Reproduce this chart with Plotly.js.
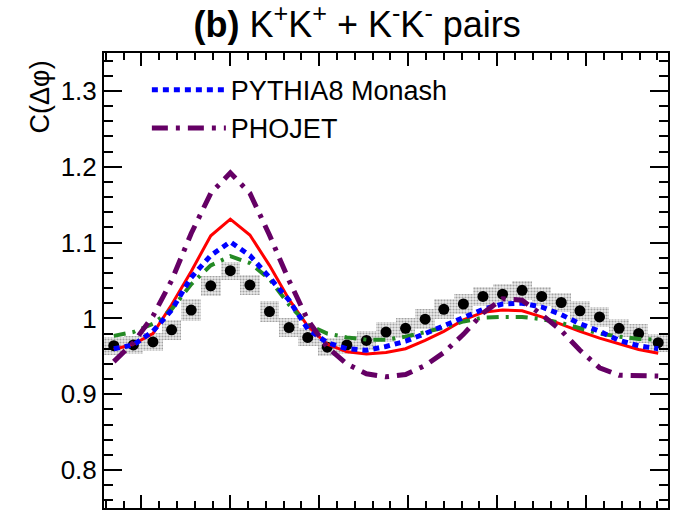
<!DOCTYPE html>
<html>
<head>
<meta charset="utf-8">
<script src="https://cdn.plot.ly/plotly-3.0.1.min.js"></script>
<style>html,body{margin:0;padding:0;background:#fff;}#chart{width:679px;height:512px;}</style>
</head>
<body>
<div id="chart"></div>
<script>
// Δφ bin centres (29 bins)
const dphi = [-1.31, -1.09, -0.87, -0.66, -0.44, -0.22, 0.00, 0.22, 0.44, 0.66,
              0.87, 1.09, 1.31, 1.53, 1.75, 1.97, 2.19, 2.40, 2.62, 2.84,
              3.06, 3.28, 3.50, 3.72, 3.93, 4.15, 4.37, 4.59, 4.81];
// measured correlation
const dataC = [0.964, 0.965, 0.969, 0.985, 1.011, 1.043, 1.063, 1.044, 1.009, 0.988,
               0.975, 0.962, 0.965, 0.971, 0.982, 0.987, 0.999, 1.012, 1.019, 1.029,
               1.032, 1.037, 1.029, 1.021, 1.010, 1.002, 0.987, 0.980, 0.968];
// systematic uncertainty (half height of grey boxes)
const dataSys = [0.012, 0.012, 0.012, 0.013, 0.014, 0.013, 0.012, 0.013, 0.014, 0.013,
                 0.012, 0.012, 0.012, 0.012, 0.013, 0.013, 0.013, 0.013, 0.013, 0.013,
                 0.013, 0.013, 0.013, 0.013, 0.013, 0.013, 0.012, 0.012, 0.012];
// model curves
const modelRed = [0.959, 0.966, 0.980, 1.018, 1.062, 1.109, 1.131, 1.110, 1.070, 1.025,
                  0.990, 0.966, 0.956, 0.953, 0.955, 0.960, 0.971, 0.983, 0.998, 1.008,
                  1.011, 1.010, 1.002, 0.992, 0.983, 0.974, 0.966, 0.959, 0.954];
const pythia8Monash = [0.960, 0.965, 0.983, 1.011, 1.054, 1.083, 1.101, 1.083, 1.054, 1.024,
                       0.986, 0.968, 0.960, 0.958, 0.963, 0.970, 0.980, 0.990, 1.002, 1.012,
                       1.019, 1.020, 1.015, 1.005, 0.993, 0.983, 0.971, 0.964, 0.960];
const modelGreen = [0.977, 0.982, 0.993, 1.012, 1.045, 1.070, 1.082, 1.073, 1.052, 1.018,
                    0.992, 0.980, 0.975, 0.972, 0.972, 0.976, 0.982, 0.988, 0.996, 1.001,
                    1.002, 1.002, 0.999, 0.994, 0.987, 0.980, 0.976, 0.973, 0.972];
const phojet = [0.943, 0.968, 1.003, 1.050, 1.112, 1.165, 1.192, 1.165, 1.110, 1.050,
                0.998, 0.962, 0.940, 0.927, 0.923, 0.926, 0.938, 0.955, 0.979, 1.007,
                1.026, 1.024, 1.005, 0.984, 0.958, 0.935, 0.925, 0.924, 0.924];
const yTickVals = [0.8, 0.9, 1.0, 1.1, 1.2, 1.3];
const yTickText = ['0.8', '0.9', '1', '1.1', '1.2', '1.3'];
const legendNames = ['PYTHIA8 Monash', 'PHOJET'];

const FONT = 'Liberation Sans, Arial, Helvetica, sans-serif';

const traces = [
  {
    type: 'bar', x: dphi,
    y: dataSys.map(s => 2 * s),
    base: dataC.map((v, i) => v - dataSys[i]),
    width: 0.22,
    marker: {color: '#dcdcdc', line: {width: 0},
             pattern: {shape: '.', fgcolor: '#a2a2a2', bgcolor: '#ececec', size: 3, solidity: 0.4}},
    showlegend: false, hoverinfo: 'skip'
  },
  {
    type: 'scatter', mode: 'markers', x: dphi, y: dataC,
    marker: {color: '#000', size: 11, symbol: 'circle'},
    showlegend: false
  },
  {
    type: 'scatter', mode: 'lines', x: dphi, y: modelRed,
    line: {color: '#ff0000', width: 3},
    showlegend: false
  },
  {
    type: 'scatter', mode: 'lines', x: dphi, y: modelGreen,
    line: {color: '#248a24', width: 4, dash: '12px,7px,3px,7px'},
    showlegend: false
  },
  {
    type: 'scatter', mode: 'lines', x: dphi, y: pythia8Monash, name: legendNames[0],
    line: {color: '#0000ff', width: 5, dash: '6px,5px'}
  },
  {
    type: 'scatter', mode: 'lines', x: dphi, y: phojet, name: legendNames[1],
    line: {color: '#650065', width: 5, dash: '16px,8px,4px,8px'}
  }
];

const layout = {
  width: 679, height: 512,
  margin: {l: 104, r: 11, t: 53, b: 4, pad: 0},
  paper_bgcolor: '#fff', plot_bgcolor: '#fff',
  font: {family: FONT, color: '#000', size: 25},
  bargap: 0,
  title: {
    text: '<b>(b)</b> K<sup>+</sup>K<sup>+</sup> + K<sup>-</sup>K<sup>-</sup> pairs',
    font: {family: FONT, size: 36, color: '#000'},
    x: 0.526, xanchor: 'center', xref: 'container',
    y: 0.952, yanchor: 'middle', yref: 'container'
  },
  xaxis: {
    range: [-1.42, 4.92], showgrid: false, zeroline: false,
    showline: true, linecolor: '#000', linewidth: 2, mirror: 'ticks',
    ticks: 'inside', ticklen: 13, tickwidth: 2, tickcolor: '#000',
    tick0: 0, dtick: 1, showticklabels: false,
    minor: {ticks: 'inside', ticklen: 7, tickwidth: 2, tickcolor: '#000', dtick: 0.2, tick0: 0, showgrid: false}
  },
  yaxis: {
    range: [0.75, 1.35], showgrid: false, zeroline: false,
    showline: true, linecolor: '#000', linewidth: 2, mirror: 'ticks',
    ticks: 'inside', ticklen: 18, tickwidth: 2, tickcolor: '#000',
    tickmode: 'array', tickvals: yTickVals, ticktext: yTickText,
    tickfont: {family: FONT, size: 26, color: '#000'},
    minor: {ticks: 'inside', ticklen: 9, tickwidth: 2, tickcolor: '#000', dtick: 0.02, tick0: 0, showgrid: false}
  },
  legend: {
    x: 0.076, xanchor: 'left', y: 0.972, yanchor: 'top',
    bgcolor: 'rgba(0,0,0,0)', borderwidth: 0,
    font: {family: FONT, size: 27, color: '#000'},
    itemwidth: 74, tracegroupgap: 0
  },
  annotations: [{
    text: 'C(Δφ)', textangle: -90, showarrow: false,
    xref: 'paper', yref: 'paper', x: -0.113, xanchor: 'center', y: 0.903, yanchor: 'middle',
    font: {family: FONT, size: 27, color: '#000'}
  }]
};

Plotly.newPlot('chart', traces, layout, {staticPlot: true, displayModeBar: false});
</script>
</body>
</html>
